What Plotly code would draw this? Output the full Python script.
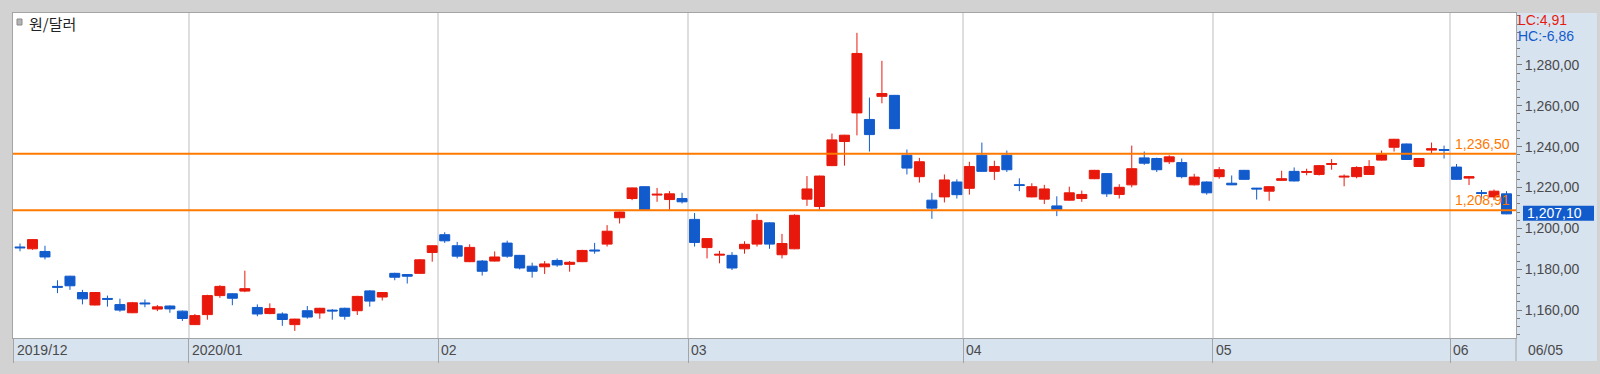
import plotly.graph_objects as go

# ---------------- data ----------------
dates = [
    "2019-12-10", "2019-12-11", "2019-12-12", "2019-12-13", "2019-12-16", "2019-12-17", "2019-12-18",
    "2019-12-19", "2019-12-20", "2019-12-23", "2019-12-24", "2019-12-26", "2019-12-27", "2019-12-30",
    "2020-01-02", "2020-01-03", "2020-01-06", "2020-01-07", "2020-01-08", "2020-01-09", "2020-01-10",
    "2020-01-13", "2020-01-14", "2020-01-15", "2020-01-16", "2020-01-17", "2020-01-20", "2020-01-21",
    "2020-01-22", "2020-01-23", "2020-01-28", "2020-01-29", "2020-01-30", "2020-01-31",
    "2020-02-03", "2020-02-04", "2020-02-05", "2020-02-06", "2020-02-07", "2020-02-10", "2020-02-11",
    "2020-02-12", "2020-02-13", "2020-02-14", "2020-02-17", "2020-02-18", "2020-02-19", "2020-02-20",
    "2020-02-21", "2020-02-24", "2020-02-25", "2020-02-26", "2020-02-27", "2020-02-28",
    "2020-03-02", "2020-03-03", "2020-03-04", "2020-03-05", "2020-03-06", "2020-03-09", "2020-03-10",
    "2020-03-11", "2020-03-12", "2020-03-13", "2020-03-16", "2020-03-17", "2020-03-18", "2020-03-19",
    "2020-03-20", "2020-03-23", "2020-03-24", "2020-03-25", "2020-03-26", "2020-03-27", "2020-03-30",
    "2020-03-31",
    "2020-04-01", "2020-04-02", "2020-04-03", "2020-04-06", "2020-04-07", "2020-04-08", "2020-04-09",
    "2020-04-10", "2020-04-13", "2020-04-14", "2020-04-16", "2020-04-17", "2020-04-20", "2020-04-21",
    "2020-04-22", "2020-04-23", "2020-04-24", "2020-04-27", "2020-04-28", "2020-04-29",
    "2020-05-04", "2020-05-06", "2020-05-07", "2020-05-08", "2020-05-11", "2020-05-12", "2020-05-13",
    "2020-05-14", "2020-05-15", "2020-05-18", "2020-05-19", "2020-05-20", "2020-05-21", "2020-05-22",
    "2020-05-25", "2020-05-26", "2020-05-27", "2020-05-28", "2020-05-29",
    "2020-06-01", "2020-06-02", "2020-06-03", "2020-06-04", "2020-06-05",
]

open_ = [
    1190.9, 1190.0, 1188.7, 1171.6, 1176.6, 1168.6, 1162.5, 1165.7, 1162.7, 1158.7, 1163.5, 1160.5, 1162.0, 1159.5,
    1152.9, 1157.8, 1167.1, 1168.0, 1169.3, 1161.3, 1158.3, 1158.1, 1152.9, 1159.7, 1158.6, 1160.0, 1160.9, 1159.7,
    1169.4, 1166.4, 1178.0, 1177.4, 1178.0, 1188.2,
    1196.9, 1191.5, 1183.7, 1184.0, 1184.0, 1192.8, 1186.8, 1181.5, 1181.2, 1184.3, 1182.4, 1183.7, 1189.4, 1192.3,
    1205.2, 1214.6, 1220.4, 1216.3, 1214.1, 1214.6,
    1204.4, 1190.6, 1186.9, 1186.8, 1190.0, 1192.3, 1202.7, 1187.1, 1190.0, 1214.3, 1210.7, 1230.7, 1242.5, 1256.5,
    1253.3, 1264.6, 1265.1, 1235.8, 1225.3, 1213.8, 1215.4, 1222.7,
    1219.6, 1235.8, 1227.9, 1235.8, 1221.4, 1215.4, 1214.3, 1211.0, 1213.8, 1214.6, 1224.3, 1226.8, 1216.6, 1221.3,
    1234.5, 1234.2, 1232.6, 1232.2, 1221.3, 1222.7,
    1225.3, 1222.1, 1228.4, 1219.7, 1218.2, 1223.5, 1227.9, 1227.4, 1226.4, 1231.3, 1225.1, 1225.3, 1226.4, 1233.4,
    1239.7, 1241.3, 1230.3, 1238.3, 1238.6,
    1230.0, 1224.6, 1217.5, 1215.4, 1216.9,
]

high = [
    1192.6, 1194.8, 1191.5, 1174.6, 1176.8, 1169.9, 1168.8, 1167.1, 1165.6, 1164.0, 1165.2, 1162.5, 1162.3, 1159.8,
    1158.1, 1167.5, 1172.2, 1168.2, 1179.3, 1162.8, 1163.3, 1158.9, 1155.8, 1162.0, 1161.1, 1160.5, 1161.2, 1167.0,
    1169.8, 1168.8, 1178.3, 1177.6, 1185.0, 1191.7,
    1198.1, 1193.4, 1192.2, 1184.5, 1188.7, 1194.0, 1187.0, 1183.2, 1184.0, 1185.3, 1184.0, 1189.5, 1192.9, 1201.6,
    1208.2, 1220.0, 1220.6, 1219.8, 1218.2, 1217.4,
    1207.5, 1195.2, 1189.0, 1188.4, 1193.7, 1207.1, 1203.0, 1197.3, 1206.9, 1225.6, 1225.8, 1246.4, 1245.8, 1295.7,
    1264.0, 1282.0, 1265.3, 1238.6, 1234.5, 1217.4, 1226.4, 1224.0,
    1232.6, 1242.0, 1233.1, 1238.1, 1224.5, 1222.1, 1221.3, 1215.7, 1220.4, 1218.5, 1228.6, 1227.0, 1221.6, 1240.5,
    1237.6, 1234.6, 1235.8, 1234.2, 1226.7, 1223.0,
    1230.0, 1225.9, 1228.6, 1219.8, 1220.6, 1228.2, 1229.8, 1229.2, 1231.0, 1233.9, 1226.4, 1230.4, 1233.4, 1238.1,
    1243.8, 1241.5, 1234.4, 1242.0, 1240.5,
    1231.5, 1225.6, 1218.8, 1219.0, 1218.2,
]

low = [
    1188.8, 1189.5, 1184.8, 1168.3, 1169.9, 1162.8, 1162.3, 1161.7, 1159.2, 1158.5, 1161.4, 1159.5, 1158.7, 1154.7,
    1152.7, 1155.3, 1166.0, 1162.4, 1168.8, 1157.0, 1158.0, 1152.3, 1149.8, 1155.8, 1155.8, 1155.3, 1155.3, 1157.6,
    1161.7, 1164.7, 1174.6, 1173.0, 1177.7, 1183.7,
    1192.9, 1185.3, 1183.5, 1176.9, 1183.8, 1185.6, 1179.9, 1175.9, 1177.7, 1181.2, 1178.8, 1183.5, 1187.6, 1191.1,
    1202.4, 1213.8, 1208.9, 1213.0, 1209.1, 1212.2,
    1191.1, 1185.3, 1182.9, 1179.6, 1187.6, 1191.1, 1190.0, 1185.3, 1189.8, 1211.0, 1209.1, 1230.5, 1230.7, 1245.5,
    1237.6, 1261.2, 1248.6, 1226.4, 1222.4, 1204.7, 1212.7, 1214.6,
    1216.5, 1227.7, 1223.7, 1227.6, 1218.2, 1215.2, 1211.9, 1206.0, 1213.6, 1213.0, 1224.1, 1215.4, 1214.6, 1220.1,
    1231.1, 1227.6, 1231.5, 1224.5, 1221.0, 1216.5,
    1224.3, 1221.2, 1223.8, 1214.1, 1213.5, 1223.4, 1223.0, 1226.0, 1225.9, 1228.7, 1220.6, 1224.5, 1226.2, 1233.2,
    1237.6, 1233.5, 1230.1, 1236.6, 1234.2,
    1223.8, 1221.2, 1213.8, 1213.8, 1206.9,
]

close = [
    1190.5, 1194.5, 1186.0, 1171.2, 1171.9, 1165.5, 1168.6, 1165.3, 1160.0, 1163.6, 1163.1, 1161.6, 1160.6, 1155.9,
    1157.3, 1167.1, 1171.6, 1165.8, 1170.5, 1158.1, 1160.8, 1155.4, 1155.6, 1156.6, 1160.9, 1159.6, 1157.0, 1166.7,
    1164.4, 1168.6, 1176.1, 1176.6, 1184.6, 1191.5,
    1193.9, 1186.4, 1190.7, 1179.0, 1186.0, 1186.4, 1180.6, 1179.0, 1182.6, 1182.1, 1183.4, 1189.2, 1189.0, 1198.6,
    1208.0, 1219.8, 1209.1, 1216.7, 1216.9, 1213.0,
    1193.1, 1195.0, 1187.3, 1180.6, 1192.2, 1203.9, 1192.3, 1192.6, 1206.4, 1219.3, 1225.6, 1243.3, 1245.6, 1285.6,
    1245.9, 1266.0, 1248.8, 1229.5, 1232.6, 1209.9, 1223.7, 1216.5,
    1230.3, 1227.9, 1230.3, 1228.7, 1221.0, 1220.4, 1219.3, 1209.1, 1217.4, 1216.6, 1228.4, 1216.9, 1220.1, 1229.2,
    1231.9, 1228.7, 1235.0, 1225.3, 1225.1, 1217.4,
    1228.7, 1221.3, 1224.0, 1219.3, 1220.4, 1224.3, 1223.2, 1227.8, 1230.7, 1231.7, 1225.5, 1229.8, 1230.3, 1236.1,
    1243.6, 1233.7, 1234.2, 1239.0, 1238.2,
    1224.0, 1225.3, 1217.1, 1218.2, 1207.1,
]

level_values = [1236.50, 1208.91]
level_labels = ["1,236,50", "1,208,91"]
last_price = 1207.10
last_price_label = "1,207,10"
y_tickvals = [1160, 1180, 1200, 1220, 1240, 1260, 1280]
y_ticktext = ["1,160,00", "1,180,00", "1,200,00", "1,220,00", "1,240,00", "1,260,00", "1,280,00"]
series_name = "원/달러"
lc_text = "LC:4,91"
hc_text = "HC:-6,86"
end_label = "06/05"

# ---------------- styling ----------------
RED = "#e8190c"
BLUE = "#125bcc"
ORANGE = "#ff7800"
PANEL = "#d8e3f0"
BORDER = "#a4a4a4"
TXT = "#4a4a4a"
KFONT = "Noto Sans CJK KR"
NFONT = "Liberation Sans"

W, H = 1600, 374
ML, MR, MT, MB = 12, 84, 12, 24
PW, PH = W - ML - MR, H - MT - MB

idx = list(range(len(dates)))

# month boundaries -> ticks between candles
tick_pos, tick_txt = [], []
prev = None
for i, d in enumerate(dates):
    ym = d[:7]
    if ym != prev:
        tick_pos.append(i - 0.5)
        if prev is None or ym[:4] != prev[:4]:
            tick_txt.append(ym.replace("-", "/"))
        else:
            tick_txt.append(ym[5:7])
        prev = ym

fig = go.Figure()
fig.add_trace(go.Candlestick(
    x=idx, open=open_, high=high, low=low, close=close,
    text=dates, name=series_name,
    increasing=dict(line=dict(color=RED, width=1), fillcolor=RED),
    decreasing=dict(line=dict(color=BLUE, width=1), fillcolor=BLUE),
    whiskerwidth=0,
))

x_left = -0.56
x_right = len(dates) - 1 + 0.76

shapes = [
    # bottom date strip
    dict(type="rect", xref="paper", yref="paper", x0=0, x1=1 + (MR - 3) / PW,
         y0=-MB / PH, y1=0, fillcolor=PANEL, line=dict(width=0), layer="below"),
    # right price panel
    dict(type="rect", xref="paper", yref="paper", x0=1, x1=1 + (MR - 3) / PW,
         y0=0, y1=1, fillcolor=PANEL, line=dict(width=0), layer="below"),
    # separator between date strip and corner cell
    dict(type="line", xref="paper", yref="paper", x0=1, x1=1, y0=-MB / PH, y1=0,
         line=dict(color=BORDER, width=1)),
    # legend marker
    dict(type="rect", xref="paper", yref="paper", xsizemode="pixel", ysizemode="pixel",
         xanchor=0, yanchor=1, x0=4, x1=9, y0=-6, y1=-12,
         fillcolor="#b4b4b4", line=dict(color="#8a8a8a", width=1)),
    # last price tag background
    dict(type="rect", xref="paper", yref="y", xsizemode="pixel", ysizemode="pixel",
         xanchor=1, yanchor=last_price, x0=7, x1=78, y0=-7, y1=8,
         fillcolor=BLUE, line=dict(width=0)),
]
for v in level_values:
    shapes.append(dict(type="line", xref="paper", yref="y", x0=0, x1=1, y0=v, y1=v,
                       line=dict(color=ORANGE, width=2)))

annotations = []
for v, t in zip(level_values, level_labels):
    annotations.append(dict(x=1, xref="paper", xanchor="right", xshift=-5, y=v, yref="y",
                            yanchor="middle", yshift=10, text=t, showarrow=False, borderpad=0,
                            font=dict(family=NFONT, size=14, color=ORANGE)))
annotations.append(dict(x=1, xref="paper", xanchor="left", xshift=10, y=last_price, yref="y",
                        yanchor="middle", yshift=1, text=last_price_label, showarrow=False,
                        borderpad=0, font=dict(family=NFONT, size=14, color="white")))
annotations.append(dict(x=1, xref="paper", xanchor="left", xshift=1, y=1, yref="paper",
                        yanchor="middle", yshift=-7, text=lc_text, showarrow=False,
                        borderpad=0, font=dict(family=NFONT, size=14, color=RED)))
annotations.append(dict(x=1, xref="paper", xanchor="left", xshift=1, y=1, yref="paper",
                        yanchor="middle", yshift=-23, text=hc_text, showarrow=False,
                        borderpad=0, font=dict(family=NFONT, size=14, color=BLUE)))
annotations.append(dict(x=0, xref="paper", xanchor="left", xshift=14, y=1, yref="paper",
                        yanchor="middle", yshift=-10, text=series_name, showarrow=False,
                        font=dict(family=KFONT, size=15, color="#222222")))
for p, t in zip(tick_pos, tick_txt):
    annotations.append(dict(x=max(p, x_left), xref="x", xanchor="left", xshift=1, y=0, yref="paper",
                            yanchor="middle", yshift=-12, text=t, showarrow=False,
                            font=dict(family=NFONT, size=14, color=TXT)))
annotations.append(dict(x=1, xref="paper", xanchor="left", xshift=10, y=0, yref="paper",
                        yanchor="middle", yshift=-12, text=end_label, showarrow=False,
                        font=dict(family=NFONT, size=14, color=TXT)))

fig.update_layout(
    width=W, height=H,
    margin=dict(l=ML, r=MR, t=MT, b=MB, pad=0),
    paper_bgcolor="#d2d2d2",
    plot_bgcolor="white",
    showlegend=False,
    boxgap=0.2, boxgroupgap=0,
    shapes=shapes,
    annotations=annotations,
    font=dict(family=NFONT, size=14, color=TXT),
    xaxis=dict(
        range=[x_left, x_right], tickmode="array", tickvals=tick_pos, ticktext=tick_txt,
        showticklabels=False, ticks="outside", ticklen=MB, tickcolor=BORDER, tickwidth=1,
        showgrid=True, gridcolor="#dedede", gridwidth=2, zeroline=False,
        showline=True, linecolor=BORDER, linewidth=1, mirror=True,
        rangeslider=dict(visible=False), fixedrange=True,
    ),
    yaxis=dict(
        side="right", range=[1146.35, 1305.4], tickmode="array",
        tickvals=y_tickvals, ticktext=y_ticktext, ticks="outside", ticklen=5,
        tickcolor="#7a7a7a", tickwidth=1, showgrid=False, zeroline=False,
        showline=True, linecolor=BORDER, linewidth=1, mirror=True,
        tickfont=dict(family=NFONT, size=14, color=TXT),
        minor=dict(tickmode="linear", tick0=1160, dtick=4, ticks="outside", ticklen=3,
                   tickcolor="#7a7a7a", showgrid=False),
        fixedrange=True,
    ),
)

fig.write_html(
    "out.html",
    config={"displayModeBar": False},
    post_script="document.body.style.margin='0';document.body.style.overflow='hidden';",
)
